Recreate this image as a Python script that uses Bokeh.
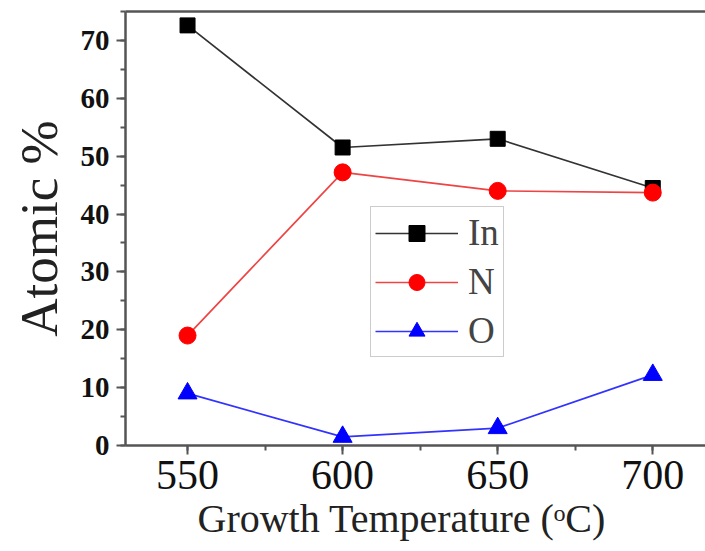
from bokeh.plotting import figure
from bokeh.models import SingleIntervalTicker, LinearAxis, FixedTicker, Range1d, Title
from bokeh.embed import file_html
from bokeh.resources import INLINE

temps = [550, 600, 650, 700]
in_vals = [72.6, 51.5, 53.0, 44.5]
n_vals = [19.0, 47.2, 44.0, 43.7]
o_vals = [9.0, 1.5, 3.0, 12.2]
x_title = "Growth Temperature (\u1d52C)"
y_title = "Atomic %"

FONT = "Liberation Serif"
AX = "#555555"

p = figure(width=705, height=551, output_backend="svg", toolbar_location=None,
           x_range=Range1d(530, 717), y_range=Range1d(0, 75),
           min_border_left=125, min_border_right=0, min_border_top=11, min_border_bottom=106)
p.outline_line_color = None
p.grid.grid_line_color = None
p.background_fill_color = "white"
p.border_fill_color = "white"

p.line(temps, in_vals, line_color="#333333", line_width=1.7, legend_label="In")
p.scatter(temps, in_vals, marker="square", size=15, fill_color="black", line_color="black", legend_label="In")
p.line(temps, n_vals, line_color="#ee4444", line_width=1.7, legend_label="N")
p.scatter(temps, n_vals, marker="circle", size=17, fill_color="#ff0000", line_color="#ff0000", legend_label="N")
p.line(temps, o_vals, line_color="#3333ff", line_width=1.7, legend_label="O")
p.scatter(temps, o_vals, marker="triangle", size=19, fill_color="#0000ff", line_color="#0000ff", legend_label="O")

for ax in (p.xaxis[0], p.yaxis[0]):
    ax.axis_line_color = AX
    ax.axis_line_width = 2.5
    ax.major_tick_line_color = AX
    ax.minor_tick_line_color = AX
    ax.major_tick_line_width = 2
    ax.minor_tick_line_width = 2
    ax.major_tick_out = 9
    ax.major_tick_in = 0
    ax.minor_tick_out = 5
    ax.minor_tick_in = 0
    ax.major_label_text_font = FONT
    ax.axis_label_text_font = FONT
    ax.axis_label_text_font_style = "normal"
    ax.major_label_text_color = "#111111"
    ax.axis_label_text_color = "#222222"

p.xaxis[0].ticker = SingleIntervalTicker(interval=50, num_minor_ticks=2)
p.yaxis[0].ticker = SingleIntervalTicker(interval=10, num_minor_ticks=2)
p.xaxis[0].major_label_text_font_size = "42px"
p.yaxis[0].major_label_text_font_size = "29px"
p.yaxis[0].major_label_text_font_style = "bold"
p.yaxis[0].axis_label = y_title
p.yaxis[0].axis_label_text_font_size = "53px"
p.xaxis[0].major_label_standoff = 6
p.yaxis[0].major_label_standoff = 7
p.yaxis[0].axis_label_standoff = 10

xt = Title(text=x_title, align="left", offset=72, standoff=5,
           text_font=FONT, text_font_size="40px", text_font_style="normal", text_color="#222222")
p.add_layout(xt, "below")

top = LinearAxis(ticker=FixedTicker(ticks=[]), axis_line_color=AX, axis_line_width=2.5,
                 major_label_text_font_size="0px", major_tick_line_color=None, minor_tick_line_color=None)
p.add_layout(top, "above")

leg = p.legend[0]
leg.location = (245, 88)
leg.border_line_color = "#999999"
leg.border_line_width = 1.5
leg.label_text_font = FONT
leg.label_text_font_size = "37px"
leg.glyph_width = 83
leg.glyph_height = 40
leg.label_height = 40
leg.spacing = 6
leg.padding = 4
leg.label_standoff = 10
leg.margin = 0
leg.background_fill_alpha = 1

open("out.html", "w").write(file_html(p, INLINE))
